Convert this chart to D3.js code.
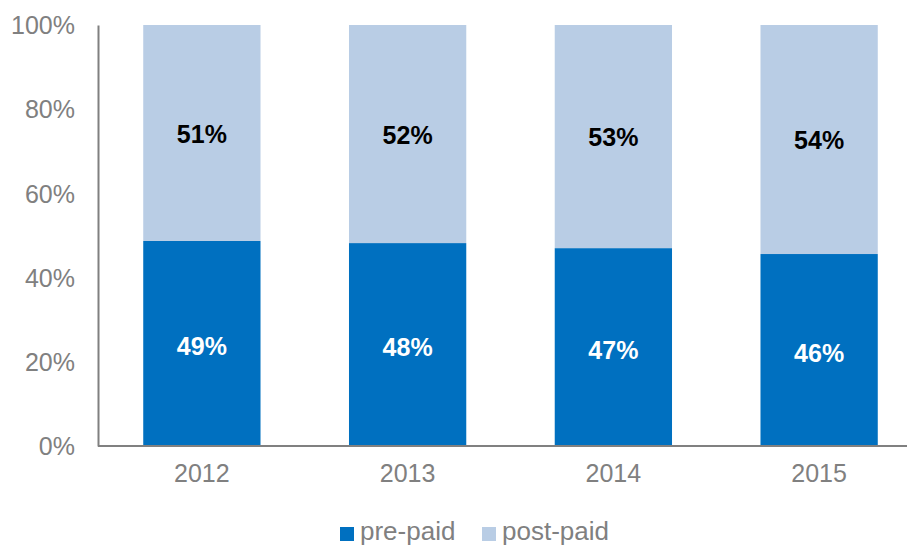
<!DOCTYPE html>
<html>
<head>
<meta charset="utf-8">
<script src="https://cdn.jsdelivr.net/npm/d3@7"></script>
<style>
  body { margin: 0; background: #fff; }
  text { font-family: "Liberation Sans", Arial, sans-serif; }
</style>
</head>
<body>
<div id="chart"></div>
<script>
// data
var years = ["2012", "2013", "2014", "2015"];
var prePaid = [48.7, 48.2, 47.0, 45.6];
var postPaid = [51.3, 51.8, 53.0, 54.4];
var prePaidLabels = ["49%", "48%", "47%", "46%"];
var postPaidLabels = ["51%", "52%", "53%", "54%"];
var yTicks = [0, 20, 40, 60, 80, 100];
var seriesNames = ["pre-paid", "post-paid"];

var width = 907, height = 545;
var colors = ["#0070C0", "#B9CDE5"];
var grey = "#808080";

var svg = d3.select("#chart").append("svg")
    .attr("width", width)
    .attr("height", height);

var x = d3.scaleBand()
    .domain(years)
    .range([99, 922])
    .paddingInner(0.43)
    .paddingOuter(0.215);

var y = d3.scaleLinear()
    .domain([0, 100])
    .range([446, 25]);

// stacked table
var rows = years.map(function(yr, i) {
    return {year: yr, pre: prePaid[i], post: postPaid[i], preLab: prePaidLabels[i], postLab: postPaidLabels[i]};
});

// pre-paid bars
svg.selectAll(".pre")
    .data(rows)
    .enter().append("rect")
    .attr("class", "pre")
    .attr("x", d => x(d.year))
    .attr("width", x.bandwidth())
    .attr("y", d => y(d.pre))
    .attr("height", d => y(0) - y(d.pre))
    .style("fill", colors[0]);

// post-paid bars
svg.selectAll(".post")
    .data(rows)
    .enter().append("rect")
    .attr("class", "post")
    .attr("x", d => x(d.year))
    .attr("width", x.bandwidth())
    .attr("y", d => y(d.pre + d.post))
    .attr("height", d => y(d.pre) - y(d.pre + d.post))
    .style("fill", colors[1]);

// labels inside segments
svg.selectAll(".preLab")
    .data(rows)
    .enter().append("text")
    .attr("x", d => x(d.year) + x.bandwidth() / 2)
    .attr("y", d => (y(0) + y(d.pre)) / 2 + 3)
    .attr("dy", "0.35em")
    .attr("text-anchor", "middle")
    .style("font-size", "25px")
    .style("font-weight", "bold")
    .style("fill", "#fff")
    .text(d => d.preLab);

svg.selectAll(".postLab")
    .data(rows)
    .enter().append("text")
    .attr("x", d => x(d.year) + x.bandwidth() / 2)
    .attr("y", d => (y(d.pre) + y(d.pre + d.post)) / 2 + 1)
    .attr("dy", "0.35em")
    .attr("text-anchor", "middle")
    .style("font-size", "25px")
    .style("font-weight", "bold")
    .style("fill", "#000")
    .text(d => d.postLab);

// y axis
var yAxis = svg.append("g")
    .attr("transform", "translate(98,0)")
    .call(d3.axisLeft(y).tickValues(yTicks).tickSize(0).tickPadding(23).tickFormat(d => d + "%"));
yAxis.select(".domain").attr("stroke", grey).attr("stroke-width", 2);
yAxis.selectAll("text").style("font-size", "25px").style("fill", grey).attr("dy", "0.35em");

// x axis
var xAxis = svg.append("g")
    .attr("transform", "translate(0,446)")
    .call(d3.axisBottom(x).tickSize(0).tickPadding(18));
xAxis.select(".domain").attr("d", "M98,0H907").attr("stroke", grey).attr("stroke-width", 2);
xAxis.selectAll("text").style("font-size", "25px").style("fill", grey);

// legend
var legendX = [340, 482];
var legend = svg.selectAll(".legend")
    .data(seriesNames)
    .enter().append("g")
    .attr("transform", (d, i) => "translate(" + legendX[i] + ",527)");

legend.append("rect")
    .attr("width", 14)
    .attr("height", 14)
    .style("fill", (d, i) => colors[i]);

legend.append("text")
    .attr("x", 20)
    .attr("y", 13)
    .style("font-size", "26px")
    .style("fill", grey)
    .text(d => d);
</script>
</body>
</html>
